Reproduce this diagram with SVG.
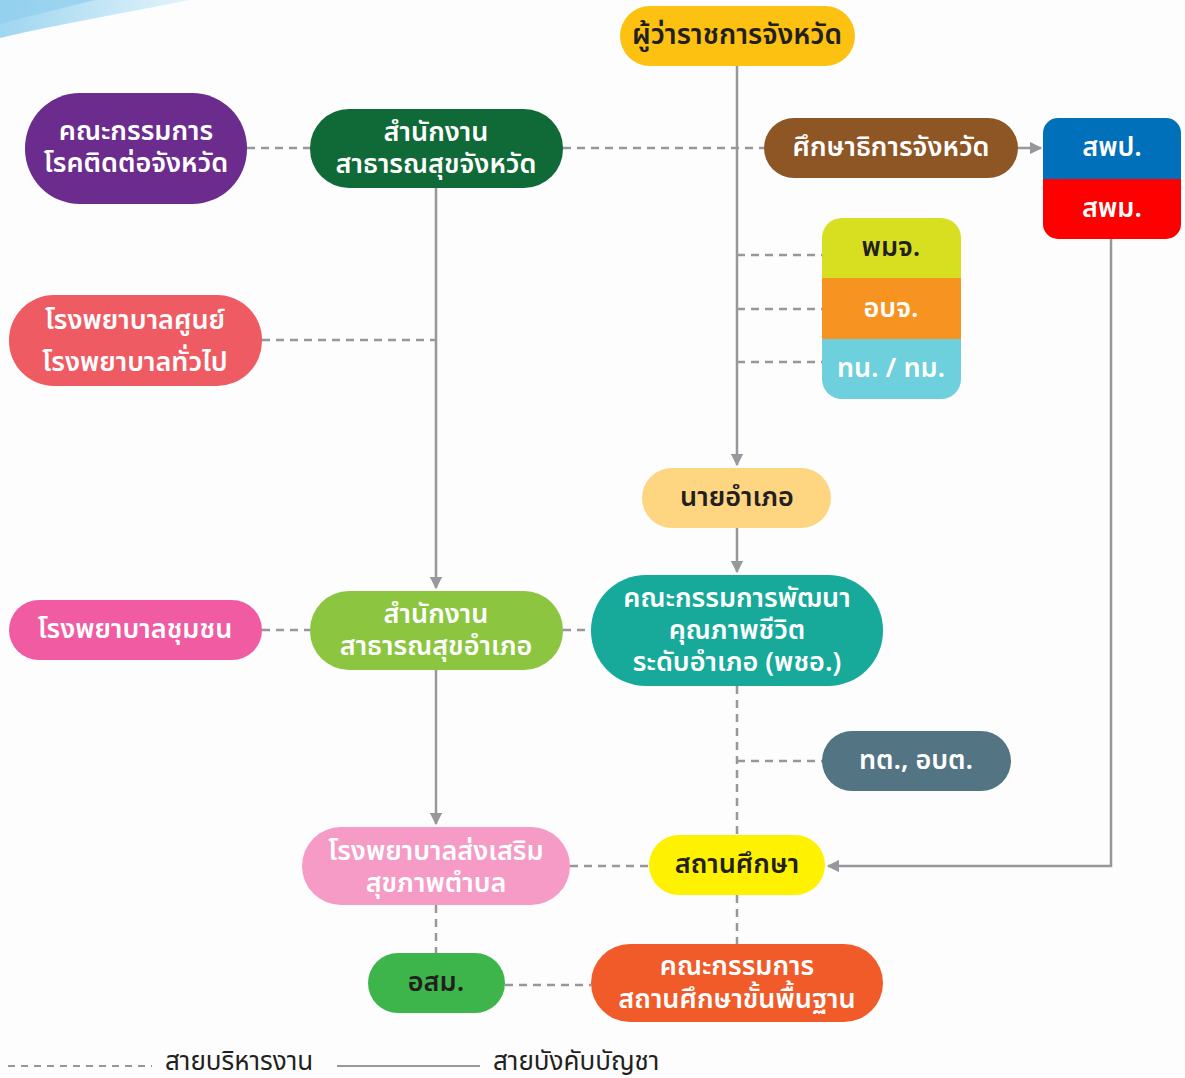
<svg xmlns="http://www.w3.org/2000/svg" width="1185" height="1078" viewBox="0 0 1185 1078">
<defs>
<linearGradient id="sw" x1="0" y1="0" x2="1" y2="0">
<stop offset="0" stop-color="#9fd6f0"/>
<stop offset="1" stop-color="#e3f3fb"/>
</linearGradient>
<marker id="ah" viewBox="0 0 10 10" refX="9" refY="5" markerWidth="5" markerHeight="5" orient="auto" markerUnits="strokeWidth">
<path d="M0,0 L10,5 L0,10 z" fill="#97989b"/>
</marker>
<style>
text{font-family:"Noto Sans Thai","Noto Sans","DejaVu Sans",sans-serif;font-size:27px;text-anchor:middle;dominant-baseline:central;font-weight:600}
.w{fill:#ffffff}
.d{fill:#231f20}
.sol{fill:none;stroke:#97989b;stroke-width:2.5}
.das{fill:none;stroke:#97989b;stroke-width:2.5;stroke-dasharray:8 6}
.leg{font-size:26px;font-weight:400;fill:#231f20;text-anchor:start}
</style>
</defs>
<rect width="1185" height="1078" fill="#fdfdfd"/>
<path d="M0,0 L190,0 C130,12 60,24 0,38 Z" fill="url(#sw)"/>
<path d="M0,0 L95,0 C60,9 25,17 0,24 Z" fill="#8fcfee" opacity="0.7"/>

<g id="connectors">
<line class="sol" x1="737" y1="66" x2="737" y2="465" marker-end="url(#ah)"/>
<line class="sol" x1="737" y1="528" x2="737" y2="572" marker-end="url(#ah)"/>
<line class="sol" x1="436" y1="188" x2="436" y2="588" marker-end="url(#ah)"/>
<line class="sol" x1="436" y1="670" x2="436" y2="824" marker-end="url(#ah)"/>
<line class="sol" x1="1018" y1="148" x2="1041" y2="148" marker-end="url(#ah)"/>
<polyline class="sol" points="1111,239 1111,866 828,866" marker-end="url(#ah)"/>
<line class="das" x1="247" y1="148" x2="310" y2="148"/>
<line class="das" x1="563" y1="148" x2="764" y2="148"/>
<line class="das" x1="737" y1="255" x2="822" y2="255"/>
<line class="das" x1="737" y1="309" x2="822" y2="309"/>
<line class="das" x1="737" y1="362" x2="822" y2="362"/>
<line class="das" x1="262" y1="340" x2="436" y2="340"/>
<line class="das" x1="262" y1="630" x2="310" y2="630"/>
<line class="das" x1="563" y1="630" x2="591" y2="630"/>
<line class="das" x1="737" y1="686" x2="737" y2="835"/>
<line class="das" x1="737" y1="761" x2="822" y2="761"/>
<line class="das" x1="570" y1="866" x2="649" y2="866"/>
<line class="das" x1="737" y1="895" x2="737" y2="944"/>
<line class="das" x1="436" y1="905" x2="436" y2="953"/>
<line class="das" x1="505" y1="985" x2="591" y2="985"/>
</g>

<g id="governor"><rect x="620" y="6" width="235" height="60" rx="30" fill="#fdc112"/><text class="d" x="737" y="35" style="font-size:28px">ผู้ว่าราชการจังหวัด</text></g>
<g id="cdc"><rect x="25" y="93" width="222" height="111" rx="55" fill="#6c2c8e"/><text class="w" x="136" y="131">คณะกรรมการ</text><text class="w" x="136" y="163">โรคติดต่อจังหวัด</text></g>
<g id="ppho"><rect x="310" y="109" width="253" height="79" rx="39" fill="#0f6a37"/><text class="w" x="436" y="132">สำนักงาน</text><text class="w" x="436" y="164">สาธารณสุขจังหวัด</text></g>
<g id="peo"><rect x="764" y="118" width="254" height="60" rx="30" fill="#8e5525"/><text class="w" x="891" y="147">ศึกษาธิการจังหวัด</text></g>
<g id="esa">
<path d="M1058,118 H1166 A15,15 0 0 1 1181,133 V179 H1043 V133 A15,15 0 0 1 1058,118 Z" fill="#0070bb"/>
<path d="M1043,179 H1181 V224 A15,15 0 0 1 1166,239 H1058 A15,15 0 0 1 1043,224 Z" fill="#fe0000"/>
<text class="w" x="1112" y="147">สพป.</text><text class="w" x="1112" y="208">สพม.</text>
</g>
<g id="local">
<path d="M842,218 H941 A20,20 0 0 1 961,238 V278 H822 V238 A20,20 0 0 1 842,218 Z" fill="#d8df21"/>
<rect x="822" y="278" width="139" height="61" fill="#f69321"/>
<path d="M822,339 H961 V379 A20,20 0 0 1 941,399 H842 A20,20 0 0 1 822,379 Z" fill="#6ecfdd"/>
<text class="d" x="891" y="247">พมจ.</text><text class="w" x="891" y="308">อบจ.</text><text class="w" x="891" y="368">ทน. / ทม.</text>
</g>
<g id="hosp"><rect x="9" y="295" width="253" height="91" rx="45" fill="#ef5b62"/><text class="w" x="135" y="320">โรงพยาบาลศูนย์</text><text class="w" x="135" y="362">โรงพยาบาลทั่วไป</text></g>
<g id="district"><rect x="642" y="468" width="189" height="60" rx="30" fill="#fed580"/><text class="d" x="737" y="497">นายอำเภอ</text></g>
<g id="dhb"><rect x="591" y="575" width="292" height="111" rx="55" fill="#17a99a"/><text class="w" x="737" y="598">คณะกรรมการพัฒนา</text><text class="w" x="737" y="630">คุณภาพชีวิต</text><text class="w" x="737" y="662">ระดับอำเภอ (พชอ.)</text></g>
<g id="dho"><rect x="310" y="591" width="253" height="79" rx="39" fill="#8cc640"/><text class="w" x="436" y="614">สำนักงาน</text><text class="w" x="436" y="646">สาธารณสุขอำเภอ</text></g>
<g id="commhosp"><rect x="9" y="600" width="253" height="60" rx="30" fill="#f05ba1"/><text class="w" x="135" y="629">โรงพยาบาลชุมชน</text></g>
<g id="tambon"><rect x="822" y="731" width="189" height="60" rx="30" fill="#537583"/><text class="w" x="916" y="760">ทต., อบต.</text></g>
<g id="school"><rect x="649" y="835" width="176" height="60" rx="30" fill="#fef200"/><text class="d" x="737" y="864">สถานศึกษา</text></g>
<g id="hph"><rect x="302" y="827" width="268" height="78" rx="39" fill="#f59bc5"/><text class="w" x="436" y="851">โรงพยาบาลส่งเสริม</text><text class="w" x="436" y="883">สุขภาพตำบล</text></g>
<g id="vhv"><rect x="368" y="953" width="137" height="60" rx="30" fill="#3db54a"/><text class="d" x="436" y="982">อสม.</text></g>
<g id="sbc"><rect x="591" y="944" width="292" height="78" rx="39" fill="#f15a29"/><text class="w" x="737" y="966">คณะกรรมการ</text><text class="w" x="737" y="999">สถานศึกษาขั้นพื้นฐาน</text></g>

<g id="legend">
<line class="das" x1="8" y1="1066" x2="152" y2="1066" style="stroke-width:2;stroke-dasharray:7 6"/>
<text class="leg" x="165" y="1062">สายบริหารงาน</text>
<line class="sol" x1="337" y1="1066" x2="480" y2="1066" style="stroke-width:2"/>
<text class="leg" x="493" y="1062">สายบังคับบัญชา</text>
</g>
</svg>
